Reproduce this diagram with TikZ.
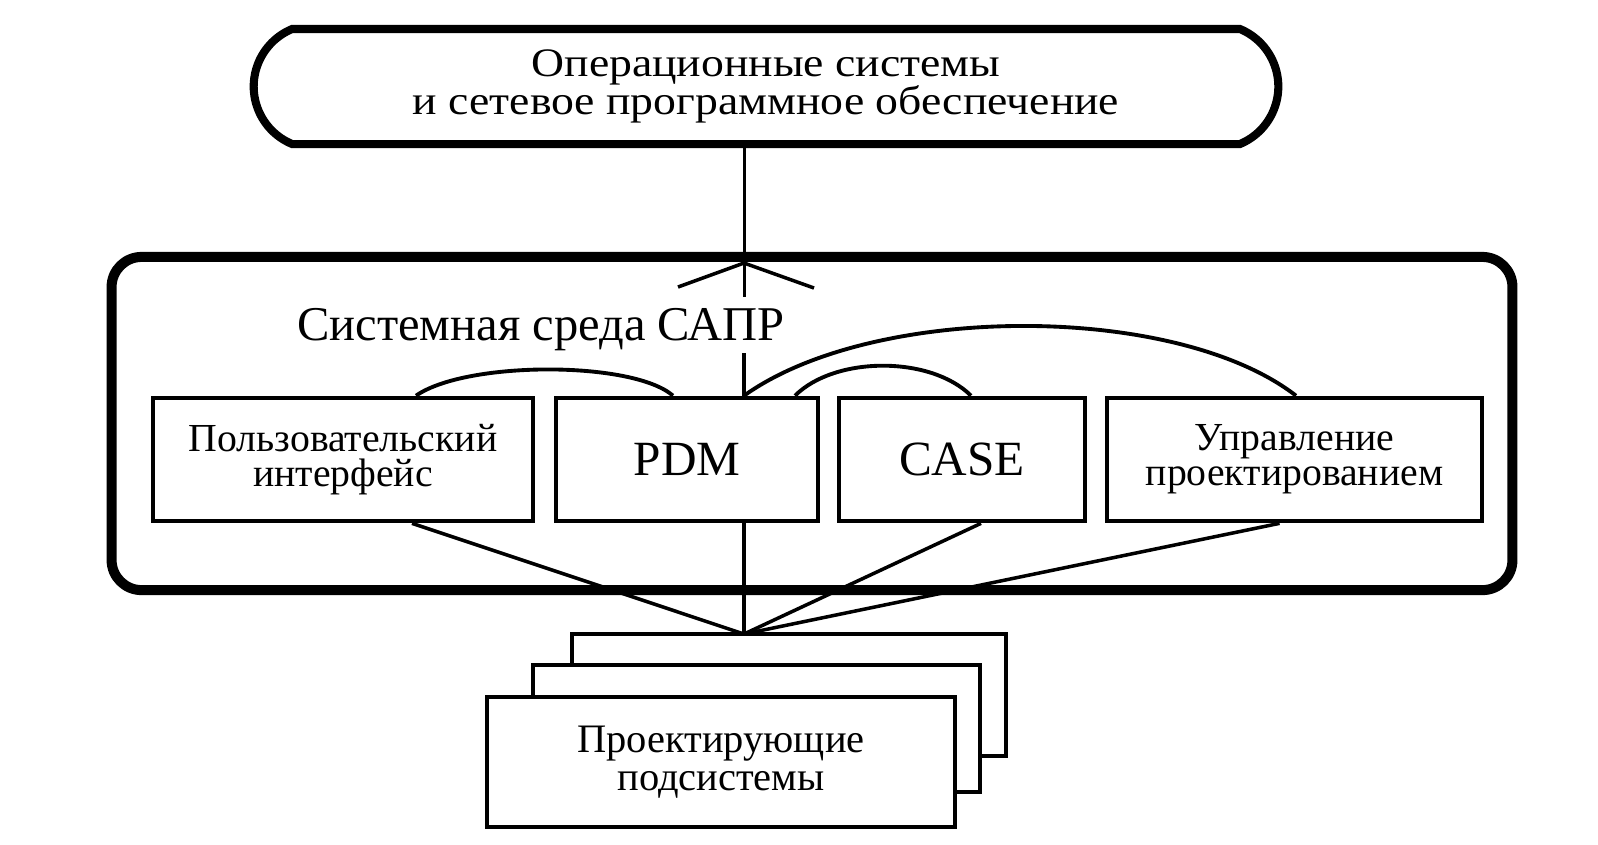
\documentclass[tikz,border=0pt]{standalone}
\usepackage{fontspec}
\setmainfont{Liberation Serif}
\newfontfamily\wideFont[FakeStretch=1.13]{Liberation Serif}
\usetikzlibrary{shapes.misc, calc}

\begin{document}
\begin{tikzpicture}[x=0.01cm, y=-0.01cm,
    module/.style={draw, line width=1.3pt, align=center, inner sep=0pt,
      minimum height=1.23cm, font=\fontsize{11.3}{10}\selectfont},
    subsys/.style={draw, line width=1.15pt, fill=white, inner sep=0pt},
    link/.style={line width=1pt},
    hump/.style={line width=1.1pt}]
  \useasboundingbox (0, 0) rectangle (1598, 844);
  %
  % operating systems on top
  \node[rounded rectangle, rounded rectangle arc length=135, draw,
    line width=2.3pt, minimum width=10.24cm, minimum height=1.15cm,
    inner sep=0pt, align=center,
    font=\wideFont\fontsize{11.5}{10.7}\selectfont] (os) at (766, 86.5)
    {Операционные системы\\и сетевое программное обеспечение};
  %
  % CAD system environment
  \node[draw, line width=2.85pt, rounded corners=0.3cm,
    minimum width=14cm, minimum height=3.33cm] (env) at (812, 423.5) {};
  \node[anchor=base, font=\fontsize{13.8}{16}\selectfont] (envlabel)
    at (541, 340) {Системная среда САПР};
  %
  \node[module, minimum width=3.8cm] (ui) at (343, 459.5)
    {Пользовательский\\интерфейс};
  \node[module, minimum width=2.62cm, font=\fontsize{14}{16}\selectfont]
    (pdm) at (687, 459.5) {PDM};
  \node[module, minimum width=2.46cm, font=\fontsize{14}{16}\selectfont]
    (case) at (962, 459.5) {CASE};
  \node[module, minimum width=3.75cm] (mgmt) at (1294.5, 459.5)
    {Управление\\проектированием};
  %
  % stack of design subsystems
  \node[subsys, minimum width=4.34cm, minimum height=1.22cm] (sub3)
    at (789, 695) {};
  \node[subsys, minimum width=4.47cm, minimum height=1.27cm] (sub2)
    at (756.5, 728.5) {};
  \node[subsys, minimum width=4.68cm, minimum height=1.3cm, align=center,
    font=\fontsize{11.5}{10.8}\selectfont] (sub1) at (721, 762)
    {Проектирующие\\подсистемы};
  %
  \coordinate (join) at (744, 634);
  \coordinate (tip) at (744, 263);
  \coordinate (tail) at (744, 297);
  \coordinate (stub) at (744, 353);
  %
  % link up to the operating systems
  \draw[line width=0.85pt] (os.south -| tip) -- (tail);
  \draw[link] (tip) -- ++(-66, 24);
  \draw[link] (tip) -- ++(70, 25);
  \draw[link] (pdm.north -| stub) -- (stub);
  %
  % links between the modules
  \draw[hump] ($(ui.north) + (73, 0)$)
    .. controls +(50, -35) and +(-40, -35) .. ($(pdm.north) + (-14, 0)$);
  \draw[hump] (pdm.north -| stub)
    .. controls +(130, -93) and +(-120, -93) .. ($(mgmt.north) + (1.5, 0)$);
  \draw[hump] ($(pdm.north) + (108, 0)$)
    .. controls +(40, -40) and +(-40, -40) .. ($(case.north) + (9, 0)$);
  %
  % links down to the subsystems
  \draw[link] ($(ui.south) + (69, 0)$) -- (join);
  \draw[link] (pdm.south -| join) -- (join);
  \draw[link] ($(case.south) + (19, 0)$) -- (join);
  \draw[link] ($(mgmt.south) + (-15, 0)$) -- (join);
\end{tikzpicture}
\end{document}
